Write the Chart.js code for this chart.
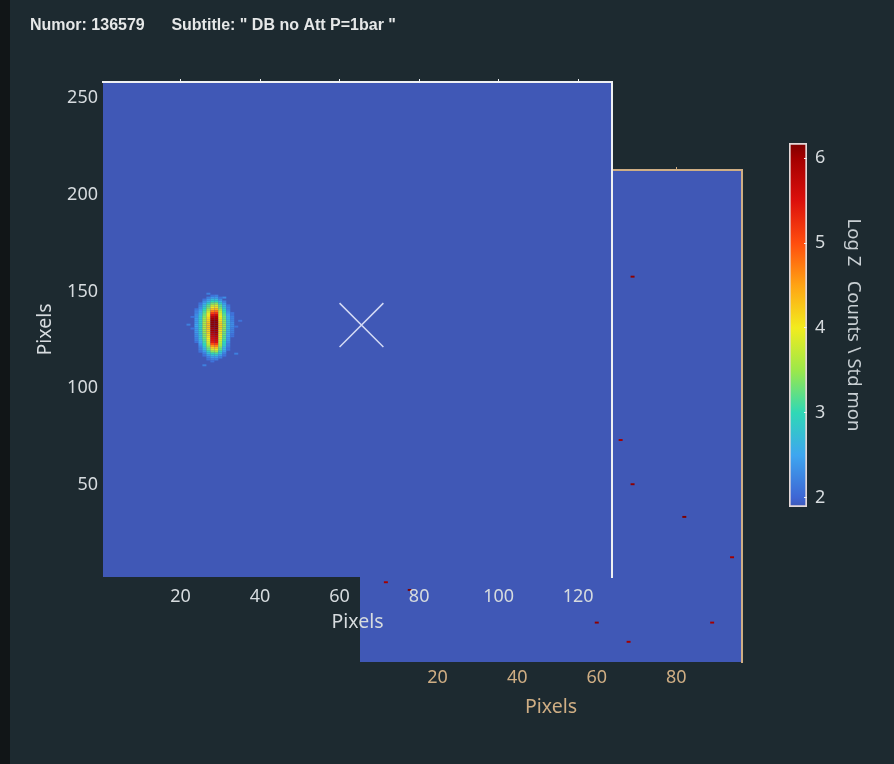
<!DOCTYPE html>
<html>
<head>
<meta charset="utf-8">
<title>Numor 136579</title>
<script src="https://cdn.jsdelivr.net/npm/chart.js@4.4.1/dist/chart.umd.min.js"></script>
<style>
  html, body { margin: 0; padding: 0; background: #1d2a30; }
  body { width: 894px; height: 764px; position: relative; overflow: hidden; }
  #edge { position: absolute; left: 0; top: 0; width: 10px; height: 764px; background: #111517; }
  canvas { position: absolute; left: 0; top: 0; }
</style>
</head>
<body>
<div id="edge"></div>
<canvas id="side" width="894" height="764"></canvas>
<canvas id="main" width="894" height="764"></canvas>
<canvas id="cbar" width="894" height="764"></canvas>
<script>
// ---- run info ----
const numor = '136579';
const subtitle = '" DB no Att P=1bar "';

// ---- detector extents (pixel indices, cell edges at half-integers) ----
const mainXRange = [0.5, 128.5];
const mainYRange = [0.5, 256.5];
const sideXRange = [0.5, 96.5];
const sideYRange = [0.5, 256.5];

// ---- tick labels ----
const mainXTicks = [20, 40, 60, 80, 100, 120];
const mainYTicks = [50, 100, 150, 200, 250];
const sideXTicks = [20, 40, 60, 80];
const cbarTicks = [2, 3, 4, 5, 6];

// ---- colour scale (log10 counts / std mon) ----
const cbarRange = [1.89, 6.18];
const cmapStops  = [1.89, 2.0, 2.5, 3.0, 3.5, 4.0, 4.5, 5.0, 5.5, 6.0, 6.18];
const cmapColors = ['#4058b6', '#3e66d4', '#3ea6f0', '#2fd8b6', '#9ce84a', '#f2ec1e',
                    '#ffa414', '#ff4d0e', '#dc100c', '#a40000', '#7e0000'];

// ---- direct beam spot on the main detector ----
// log10 counts per cell; columns 21..35, rows 147 (first) down to 110; 0 = base level
const spotCol0 = 21;
const spotRowTop = 147;
const spotRows = [
  [0,0,0,0,0,0,2.2,0,0,0,0,0,0,0,0],
  [0,0,0,0,0,0,0,2.1,2.2,0,0,0,0,0,0],
  [0,0,0,0,0,0,2.2,2.4,2.4,2.1,2.3,0,0,0,0],
  [0,0,0,0,0,2.1,2.4,2.7,2.7,2.3,0,0,0,0,0],
  [0,0,0,0,0,2.3,2.6,3.0,3.0,2.6,2.2,0,0,0,0],
  [0,0,0,0,2.1,2.5,2.9,3.3,3.4,2.9,2.4,0,0,0,0],
  [0,0,0,0,2.2,2.7,3.2,3.7,3.8,3.2,2.6,2.1,0,0,0],
  [0,0,0,0,2.3,2.8,3.3,4.0,4.1,3.3,2.7,2.2,0,0,0],
  [0,0,0,2.1,2.4,3.0,3.5,4.3,4.4,3.5,2.9,2.2,0,0,0],
  [0,0,0,2.2,2.5,3.1,3.7,4.7,4.8,3.7,3.0,2.3,0,0,0],
  [0,0,0,2.2,2.6,3.2,3.9,5.1,5.2,3.8,3.1,2.4,2.1,0,0],
  [0,0,0,2.3,2.7,3.3,4.0,5.5,5.6,3.9,3.2,2.5,2.1,0,0],
  [0,0,2.1,2.3,2.8,3.4,4.1,5.8,5.9,4.0,3.3,2.6,2.2,0,0],
  [0,0,0,2.4,2.8,3.5,4.2,6.0,6.0,4.1,3.3,2.6,2.2,0,0],
  [0,0,0,2.4,2.9,3.5,4.2,6.1,6.1,4.1,3.4,2.7,2.2,0,2.1],
  [0,0,0,2.4,2.9,3.6,4.3,6.1,6.1,4.2,3.4,2.7,2.3,0,0],
  [0,2.2,0,2.5,2.9,3.6,4.3,6.1,6.1,4.2,3.5,2.7,2.3,0,0],
  [0,0,0,2.5,2.9,3.6,4.3,6.1,6.1,4.2,3.5,2.7,2.3,2.1,0],
  [0,0,2.1,2.4,2.9,3.6,4.3,6.0,6.1,4.2,3.4,2.7,2.2,0,0],
  [0,0,0,2.4,2.9,3.5,4.2,6.0,6.0,4.1,3.4,2.6,2.2,0,0],
  [0,0,0,2.4,2.8,3.5,4.2,5.9,6.0,4.1,3.3,2.6,2.2,0,0],
  [0,0,0,2.3,2.8,3.4,4.1,5.8,5.9,4.0,3.3,2.5,2.1,0,0],
  [0,0,0,2.3,2.7,3.4,4.1,5.7,5.8,4.0,3.2,2.5,2.1,0,0],
  [0,0,0,2.2,2.7,3.3,4.0,5.6,5.7,3.9,3.2,2.4,0,0,0],
  [0,0,0,2.2,2.6,3.2,3.9,5.5,5.6,3.8,3.1,2.4,0,0,0],
  [0,0,0,2.1,2.5,3.1,3.8,5.4,5.5,3.7,3.0,2.3,0,0,0],
  [0,0,0,0,2.4,3.0,3.7,5.0,5.1,3.6,2.9,2.2,0,0,0],
  [0,0,0,0,2.3,2.9,3.5,4.6,4.7,3.5,2.8,2.2,0,0,0],
  [0,0,0,0,2.2,2.7,3.3,4.2,4.3,3.3,2.6,2.1,0,0,0],
  [0,0,0,0,2.2,2.6,3.2,3.8,3.9,3.2,2.6,2.1,0,0,0],
  [0,0,0,0,2.1,2.4,2.9,3.4,3.5,2.9,2.4,0,0,0,0],
  [0,0,0,0,0,2.2,2.7,3.0,3.1,2.7,2.2,0,0,2.2,0],
  [0,0,0,0,0,2.1,2.4,2.7,2.7,2.4,2.1,0,0,0,0],
  [0,0,0,0,0,0,2.2,2.4,2.4,2.2,0,0,0,0,0],
  [0,0,0,0,0,0,2.1,2.2,2.2,0,0,0,0,0,0],
  [0,0,0,0,0,0,0,2.1,0,0,0,0,0,0,0],
  [0,0,0,0,0,0,0,0,0,0,0,0,0,0,0],
  [0,0,0,0,0,2.2,0,0,0,0,0,0,0,0,0]
];

// ---- isolated hot cells on the side detector ----
const hotX = [69, 66, 69, 82, 94, 60, 68, 89, 7, 13];
const hotY = [201, 116, 93, 76, 55, 21, 11, 21, 42, 38];
const hotV = [6.1, 6.0, 6.1, 6.2, 6.0, 6.1, 6.0, 6.0, 6.0, 6.2];

// ---- beam centre marker ----
const beamX = [65.5];
const beamY = [130.8];

// ---------------------------------------------------------------
const TXT = '#d6dbde';
const TAN = '#cfae84';
Chart.defaults.font.family = "'Noto Sans', 'DejaVu Sans', sans-serif";

function hexRgb(h) {
  const n = parseInt(h.slice(1), 16);
  return [(n >> 16) & 255, (n >> 8) & 255, n & 255];
}
const cmapRgb = cmapColors.map(hexRgb);
function colourFor(v) {
  if (v <= cmapStops[0]) return cmapColors[0];
  const last = cmapStops.length - 1;
  if (v >= cmapStops[last]) return cmapColors[last];
  let i = 0;
  while (v > cmapStops[i + 1]) i++;
  const t = (v - cmapStops[i]) / (cmapStops[i + 1] - cmapStops[i]);
  const a = cmapRgb[i], b = cmapRgb[i + 1];
  const c = a.map((k, j) => Math.round(k + (b[j] - k) * t));
  return `rgb(${c[0]},${c[1]},${c[2]})`;
}

// cell tables built from the arrays above
const spotCells = [];
spotRows.forEach((row, r) => {
  row.forEach((v, c) => {
    if (v > 0) spotCells.push({ x: spotCol0 + c, y: spotRowTop - r, v });
  });
});
const hotCells = hotX.map((x, i) => ({ x, y: hotY[i], v: hotV[i] }));
const beamPts = beamX.map((x, i) => ({ x, y: beamY[i] }));

// Draws detector cells (1x1 pixel bins) through the chart's x / y scales.
const cellPlugin = {
  id: 'detectorCells',
  beforeDatasetsDraw(chart) {
    const { ctx, chartArea, scales } = chart;
    const xs = scales.x, ys = scales.y;
    ctx.save();
    ctx.beginPath();
    ctx.rect(chartArea.left, chartArea.top, chartArea.width, chartArea.height);
    ctx.clip();
    // base level of the whole detector
    const bx0 = xs.getPixelForValue(xs.min), bx1 = xs.getPixelForValue(xs.max);
    const by0 = ys.getPixelForValue(ys.max), by1 = ys.getPixelForValue(ys.min);
    ctx.fillStyle = colourFor(cbarRange[0]);
    ctx.fillRect(bx0, by0, bx1 - bx0, by1 - by0);
    chart.data.datasets.forEach(ds => {
      if (!ds.detectorCells) return;
      ds.data.forEach(p => {
        const l = xs.getPixelForValue(p.x - 0.5), r = xs.getPixelForValue(p.x + 0.5);
        const t = ys.getPixelForValue(p.y + 0.5), b = ys.getPixelForValue(p.y - 0.5);
        ctx.fillStyle = colourFor(p.v);
        ctx.fillRect(l, t, r - l, b - t);
      });
    });
    ctx.restore();
  }
};

const fixedTicks = list => scale => { scale.ticks = list.map(v => ({ value: v })); };
const tickFont = { size: 18 };
const titleFont = { size: 19.5 };
const noGrid = { display: false, drawTicks: false };

// ---- side detector (drawn underneath) ----
new Chart(document.getElementById('side'), {
  type: 'scatter',
  data: { datasets: [{ data: hotCells, detectorCells: true, pointRadius: 0 }] },
  options: {
    responsive: false, animation: false, events: [],
    layout: { padding: { left: 360, top: 166, right: 148, bottom: 45 } },
    plugins: { legend: { display: false }, tooltip: { enabled: false } },
    scales: {
      x: {
        type: 'linear', position: 'bottom', min: sideXRange[0], max: sideXRange[1],
        afterBuildTicks: fixedTicks(sideXTicks), afterFit: s => { s.height = 57; },
        grid: noGrid, border: { display: false },
        ticks: { color: TAN, font: tickFont, padding: 5, maxRotation: 0, autoSkip: false },
        title: { display: true, text: 'Pixels', color: TAN, font: titleFont, padding: 0 }
      },
      y: { type: 'linear', display: false, min: sideYRange[0], max: sideYRange[1] },
      xTop: {
        type: 'linear', position: 'top', min: sideXRange[0], max: sideXRange[1],
        afterBuildTicks: fixedTicks(sideXTicks), afterFit: s => { s.height = 4; },
        grid: { drawOnChartArea: false, drawTicks: true, tickLength: 3, color: TAN },
        border: { display: true, color: TAN, width: 2, z: 1 },
        ticks: { display: false }
      },
      yRight: {
        type: 'linear', position: 'right', min: sideYRange[0], max: sideYRange[1],
        afterFit: s => { s.width = 4; },
        grid: noGrid,
        border: { display: true, color: TAN, width: 2, z: 1 },
        ticks: { display: false }
      }
    }
  },
  plugins: [cellPlugin]
});

// ---- main detector ----
new Chart(document.getElementById('main'), {
  type: 'scatter',
  data: {
    datasets: [
      { data: spotCells, detectorCells: true, pointRadius: 0 },
      { data: beamPts, pointStyle: 'crossRot', pointRadius: 31, borderWidth: 1.5,
        borderColor: 'rgba(236,240,255,0.85)', backgroundColor: 'rgba(0,0,0,0)' }
    ]
  },
  options: {
    responsive: false, animation: false, events: [],
    layout: { padding: { left: 30, top: 8, right: 278, bottom: 130 } },
    plugins: {
      legend: { display: false }, tooltip: { enabled: false },
      title: {
        display: true, align: 'start',
        text: 'Numor: ' + numor + '      Subtitle: ' + subtitle,
        color: '#e6e8e8',
        font: { family: "'Liberation Sans', Arial, sans-serif", weight: 'bold', size: 16 },
        padding: { top: 8, bottom: 42.8 }
      }
    },
    scales: {
      x: {
        type: 'linear', position: 'bottom', min: mainXRange[0], max: mainXRange[1],
        afterBuildTicks: fixedTicks(mainXTicks), afterFit: s => { s.height = 57; },
        grid: noGrid, border: { display: false },
        ticks: { color: TXT, font: tickFont, padding: 9, maxRotation: 0, autoSkip: false },
        title: { display: true, text: 'Pixels', color: TXT, font: titleFont, padding: 0 }
      },
      y: {
        type: 'linear', position: 'left', min: mainYRange[0], max: mainYRange[1],
        afterBuildTicks: fixedTicks(mainYTicks), afterFit: s => { s.width = 73; },
        grid: noGrid, border: { display: false },
        ticks: { color: TXT, font: tickFont, padding: 5, labelOffset: 3.5 },
        title: { display: true, text: 'Pixels', color: TXT, font: titleFont, padding: { top: 4 } }
      },
      xTop: {
        type: 'linear', position: 'top', min: mainXRange[0], max: mainXRange[1],
        afterBuildTicks: fixedTicks(mainXTicks), afterFit: s => { s.height = 4; },
        grid: { drawOnChartArea: false, drawTicks: true, tickLength: 3, color: '#eef0f2' },
        border: { display: true, color: '#eef0f2', width: 2, z: 1 },
        ticks: { display: false }
      },
      yRight: {
        type: 'linear', position: 'right', min: mainYRange[0], max: mainYRange[1],
        afterFit: s => { s.width = 4; },
        grid: noGrid,
        border: { display: true, color: '#eef0f2', width: 2, z: 1 },
        ticks: { display: false }
      }
    }
  },
  plugins: [cellPlugin]
});

// ---- colour bar ----
function barGradient(context) {
  const chart = context.chart;
  if (!chart.chartArea) return cmapColors[0];
  const ys = chart.scales.y;
  const g = chart.ctx.createLinearGradient(0, ys.getPixelForValue(cbarRange[0]), 0, ys.getPixelForValue(cbarRange[1]));
  cmapStops.forEach((s, i) => {
    g.addColorStop((s - cbarRange[0]) / (cbarRange[1] - cbarRange[0]), cmapColors[i]);
  });
  return g;
}
new Chart(document.getElementById('cbar'), {
  type: 'bar',
  data: {
    labels: [''],
    datasets: [{
      data: [cbarRange], backgroundColor: barGradient,
      borderColor: '#e4d8d8', borderWidth: 2, borderSkipped: false,
      barPercentage: 1, categoryPercentage: 1
    }]
  },
  options: {
    responsive: false, animation: false, events: [],
    layout: { padding: { left: 789, top: 143, right: 30, bottom: 257 } },
    plugins: { legend: { display: false }, tooltip: { enabled: false } },
    scales: {
      x: { display: false },
      y: {
        type: 'linear', position: 'right', min: cbarRange[0], max: cbarRange[1],
        afterBuildTicks: fixedTicks(cbarTicks), afterFit: s => { s.width = 57; },
        grid: { drawOnChartArea: false, drawTicks: true, tickLength: -3, color: '#f0f0f0', z: 1 },
        border: { display: false },
        ticks: { color: TXT, font: tickFont, padding: 11 },
        title: { display: true, text: 'Log Z   Counts \\ Std mon', color: '#c8cfd3', font: { size: 18.5 }, padding: 0 }
      }
    }
  }
});
</script>
</body>
</html>
